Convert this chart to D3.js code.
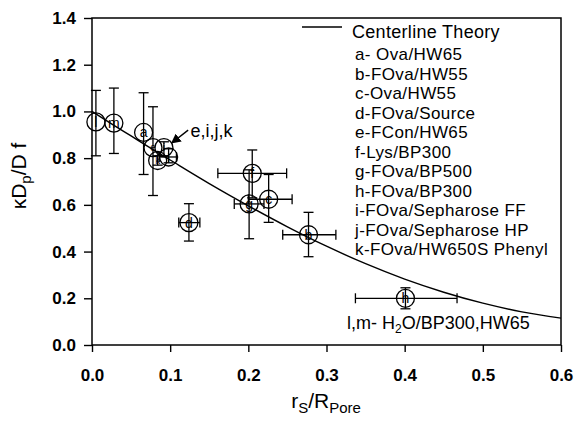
<!DOCTYPE html>
<html><head><meta charset="utf-8">
<script src="https://cdn.jsdelivr.net/npm/d3@7/dist/d3.min.js"></script>
<style>body{margin:0;background:#fff}svg{display:block}text{font-family:"Liberation Sans",Arial,sans-serif}</style>
</head><body>
<svg id="c" width="576" height="423"></svg>
<script>
// Data
const xTicks = [0.0, 0.1, 0.2, 0.3, 0.4, 0.5, 0.6];
const yTicks = [0.0, 0.2, 0.4, 0.6, 0.8, 1.0, 1.2, 1.4];

// Centerline theory curve
const theoryX = [0.0, 0.025, 0.05, 0.075, 0.1, 0.15, 0.2, 0.25, 0.3, 0.35, 0.4, 0.45, 0.5, 0.55, 0.6];
const theoryY = [1.0, 0.947, 0.895, 0.843, 0.792, 0.691, 0.596, 0.506, 0.423, 0.348, 0.282, 0.226, 0.179, 0.142, 0.115];

// Experimental points
const ptLabel = ['l', 'm', 'a', 'e', 'i', 'j', 'k', 'f', 'g', 'c', 'd', 'b', 'h'];
const ptX     = [0.005, 0.028, 0.066, 0.078, 0.092, 0.098, 0.084, 0.205, 0.201, 0.226, 0.124, 0.277, 0.401];
const ptY     = [0.955, 0.950, 0.910, 0.845, 0.845, 0.805, 0.790, 0.735, 0.604, 0.624, 0.524, 0.472, 0.200];
const ptYLow  = [0.81, 0.82, 0.73, 0.64, 0.81, 0.78, 0.77, 0.63, 0.455, 0.525, 0.445, 0.378, 0.155];
const ptYHigh = [1.09, 1.10, 1.08, 1.02, 0.87, 0.84, 0.81, 0.835, 0.75, 0.73, 0.605, 0.568, 0.245];
const ptXLow  = [null, null, null, null, null, 0.086, null, 0.161, 0.182, 0.200, 0.111, 0.244, 0.337];
const ptXHigh = [null, null, null, null, null, 0.108, null, 0.249, 0.220, 0.256, 0.138, 0.312, 0.467];

const legendItems = ['a- Ova/HW65', 'b-FOva/HW55', 'c-Ova/HW55', 'd-FOva/Source', 'e-FCon/HW65',
  'f-Lys/BP300', 'g-FOva/BP500', 'h-FOva/BP300', 'i-FOva/Sepharose FF', 'j-FOva/Sepharose HP',
  'k-FOva/HW650S Phenyl'];

const svg = d3.select('#c');
const x = d3.scaleLinear().domain([0, 0.6]).range([92, 561]);
const y = d3.scaleLinear().domain([0, 1.4]).range([345, 18]);

// axes
const ax = svg.append('g').attr('transform', `translate(0,${y(0)})`)
  .call(d3.axisBottom(x).tickValues(xTicks).tickFormat(d3.format('.1f')).tickSize(7).tickPadding(17));
const ay = svg.append('g').attr('transform', `translate(${x(0)},0)`)
  .call(d3.axisLeft(y).tickValues(yTicks).tickFormat(d3.format('.1f')).tickSize(8).tickPadding(8));
[ax, ay].forEach(g => {
  g.select('.domain').remove();
  g.selectAll('line').attr('stroke', '#000').attr('stroke-width', 1.4);
  g.selectAll('text').attr('fill', '#000').style('font-size', '17px').style('font-weight', 'bold')
   .style('font-family', '"Liberation Sans",Arial,sans-serif');
});

// frame
svg.append('rect').attr('x', x(0)).attr('y', y(1.4)).attr('width', x(0.6) - x(0)).attr('height', y(0) - y(1.4))
  .attr('fill', 'none').attr('stroke', '#000').attr('stroke-width', 1.5);

// theory curve
const line = d3.line().x(d => x(d[0])).y(d => y(d[1])).curve(d3.curveMonotoneX);
svg.append('path').datum(theoryX.map((v, i) => [v, theoryY[i]]))
  .attr('d', line).attr('fill', 'none').attr('stroke', '#000').attr('stroke-width', 1.4);

// error bars and points
const cap = 5;
const pts = svg.append('g').attr('stroke', '#000').attr('stroke-width', 1.3).attr('fill', 'none');
const cluster = new Set(['e', 'i', 'j', 'k']);
ptLabel.forEach((lab, i) => {
  const cx = x(ptX[i]), cy = y(ptY[i]);
  const y1 = y(ptYLow[i]), y2 = y(ptYHigh[i]);
  pts.append('line').attr('x1', cx).attr('x2', cx).attr('y1', y1).attr('y2', y2);
  pts.append('line').attr('x1', cx - cap).attr('x2', cx + cap).attr('y1', y1).attr('y2', y1);
  pts.append('line').attr('x1', cx - cap).attr('x2', cx + cap).attr('y1', y2).attr('y2', y2);
  if (ptXLow[i] !== null) {
    const x1 = x(ptXLow[i]), x2 = x(ptXHigh[i]);
    pts.append('line').attr('x1', x1).attr('x2', x2).attr('y1', cy).attr('y2', cy);
    pts.append('line').attr('x1', x1).attr('x2', x1).attr('y1', cy - cap).attr('y2', cy + cap);
    pts.append('line').attr('x1', x2).attr('x2', x2).attr('y1', cy - cap).attr('y2', cy + cap);
  }
  pts.append('circle').attr('cx', cx).attr('cy', cy).attr('r', 9);
  const fs = cluster.has(lab) ? 10 : 14;
  svg.append('text').attr('x', cx).attr('y', cy + fs * 0.36).attr('text-anchor', 'middle')
    .style('font-size', fs + 'px').text(lab);
});

// annotation e,i,j,k with arrow
svg.append('defs').append('marker').attr('id', 'ah').attr('viewBox', '0 0 10 10').attr('refX', 9).attr('refY', 5)
  .attr('markerWidth', 7).attr('markerHeight', 7).attr('orient', 'auto')
  .append('path').attr('d', 'M0,0 L10,5 L0,10 z').attr('fill', '#000');
svg.append('line').attr('x1', x(0.123)).attr('y1', y(0.92)).attr('x2', x(0.102)).attr('y2', y(0.865))
  .attr('stroke', '#000').attr('stroke-width', 1.4).attr('marker-end', 'url(#ah)');
svg.append('text').attr('x', x(0.126)).attr('y', y(0.89)).style('font-size', '18px').text('e,i,j,k');

// legend
svg.append('line').attr('x1', 302).attr('x2', 342).attr('y1', 27).attr('y2', 27)
  .attr('stroke', '#000').attr('stroke-width', 1.4);
svg.append('text').attr('x', 352).attr('y', 38).style('font-size', '18px').style('letter-spacing', '0.3px')
  .text('Centerline Theory');
const legY = [54, 73.5, 93, 112.5, 132, 151.5, 171, 190.5, 210, 229.5, 249];
legendItems.forEach((t, i) => {
  svg.append('text').attr('x', 355).attr('y', legY[i] + 6).style('font-size', '17px')
    .style('letter-spacing', '0.4px').text(t);
});

// l,m note
const lm = svg.append('text').attr('x', 347).attr('y', 329).style('font-size', '18px');
lm.append('tspan').text('l,m- H');
lm.append('tspan').attr('dy', 4).style('font-size', '12px').text('2');
lm.append('tspan').attr('dy', -4).text('O/BP300,HW65');

// axis titles
const xt = svg.append('text').attr('x', 326).attr('y', 408).attr('text-anchor', 'middle').style('font-size', '21px');
xt.append('tspan').text('r');
xt.append('tspan').attr('dy', 5).style('font-size', '15px').text('S');
xt.append('tspan').attr('dy', -5).text('/R');
xt.append('tspan').attr('dy', 5).style('font-size', '15px').text('Pore');

const yt = svg.append('text').attr('transform', 'translate(26,176) rotate(-90)').attr('text-anchor', 'middle')
  .style('font-size', '21px');
yt.append('tspan').text('κD');
yt.append('tspan').attr('dy', 5).style('font-size', '15px').text('p');
yt.append('tspan').attr('dy', -5).text('/D f');
</script>
</body></html>
